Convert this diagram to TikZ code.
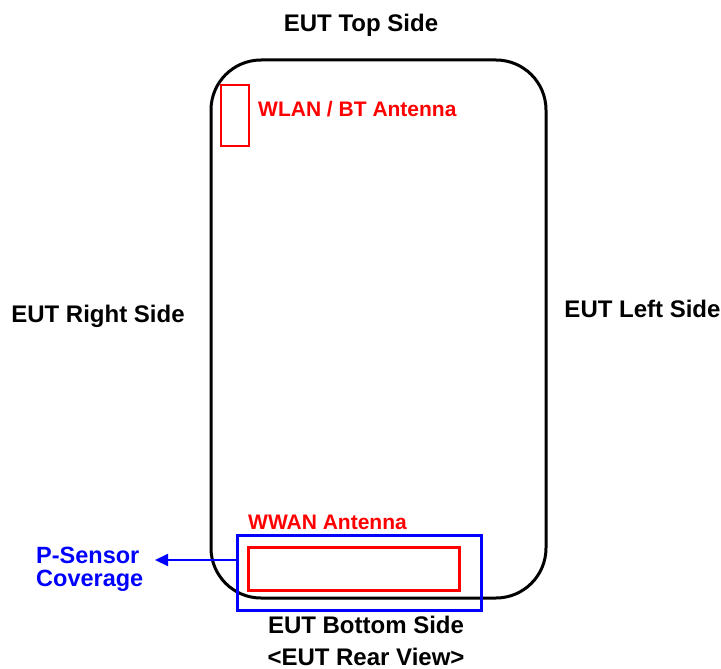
\documentclass[tikz,border=0pt]{standalone}
\usepackage{fontspec}
\setmainfont{Liberation Sans}
\usetikzlibrary{arrows.meta}
\definecolor{pred}{RGB}{255,0,0}
\definecolor{pblue}{RGB}{0,0,255}
\tikzset{
  lbl/.style={font=\fontsize{24}{24}\selectfont\bfseries, inner sep=0pt},
  redlbl/.style={font=\fontsize{21}{21}\selectfont\bfseries, text=pred, inner sep=0pt},
  bluelbl/.style={font=\fontsize{23.5}{23}\selectfont\bfseries, text=pblue, inner sep=0pt, align=left},
  box/.style={draw, rectangle, inner sep=0pt},
}
\begin{document}
\begin{tikzpicture}[x=1pt,y=-1pt]
\useasboundingbox (0,0) rectangle (721,669);
% phone outline
\node[box, line width=3pt, rounded corners=50pt, minimum width=335pt, minimum height=538pt] (phone) at (378.5,329) {};
% WLAN/BT antenna
\node[box, draw=pred, line width=2.6pt, minimum width=28pt, minimum height=61pt] (wlan) at (235,115.5) {};
\node[redlbl, anchor=base west] (wlanlbl) at (258,117) {WLAN / BT Antenna};
% P-sensor coverage
\node[box, draw=pblue, line width=3pt, minimum width=244pt, minimum height=75pt] (psens) at (359,573) {};
\node[box, draw=pred, line width=3pt, minimum width=211pt, minimum height=43pt] (wwan) at (353.5,568.5) {};
\node[redlbl, anchor=base west] (wwanlbl) at (248,529.5) {WWAN Antenna};
\coordinate (arrstart) at ([yshift=13pt]psens.west);
\coordinate (arrend) at (155,560);
\draw[pblue, line width=2pt, -{Triangle[length=13pt,width=12pt]}] (arrstart) -- (arrend);
\node[bluelbl, anchor=base west] (pslbl) at (36,586) {P-Sensor\\[0pt]Coverage};
% side labels
\node[lbl, anchor=base] (top) at (361,32) {EUT Top Side};
\node[lbl, anchor=base] (right) at (98,322) {EUT Right Side};
\node[lbl, anchor=base] (left) at (642.5,317) {EUT Left Side};
\node[lbl, anchor=base] (bottom) at (366,633) {EUT Bottom Side};
\node[lbl, anchor=base] (rear) at (366,665) {<EUT Rear View>};
\end{tikzpicture}
\end{document}
